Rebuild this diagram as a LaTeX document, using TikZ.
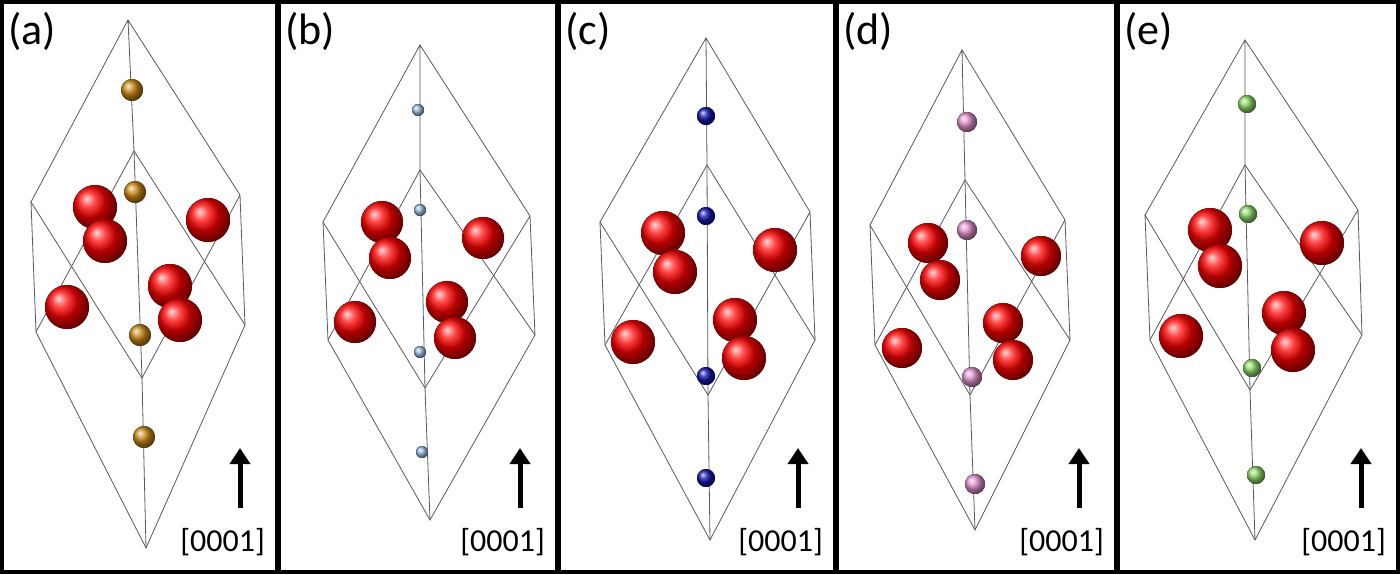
\documentclass[tikz,border=0pt]{standalone}
\usepackage{fontspec}
\setmainfont{Carlito}
\tikzset{
  frame/.style={line width=4pt,black},
  edge/.style={gray!70!black,line width=0.8pt},
  oxy/.style={shading=ball,ball color=red},
  cat/.style={shading=ball,ball color=#1},
  axis/.style={line width=5pt,-{Triangle[length=16pt,width=20pt]}},
}
\usetikzlibrary{arrows.meta}
\definecolor{gold}{RGB}{200,135,20}
\definecolor{pale}{RGB}{150,190,225}
\definecolor{navy}{RGB}{20,20,170}
\definecolor{pink}{RGB}{225,145,205}
\definecolor{lime}{RGB}{140,215,100}
\newcommand{\celledges}{%
  \draw[edge] (T) -- (UL) -- (LL) -- (B) -- (LR) -- (UR) -- (T) -- (IT);
  \draw[edge] (LL) -- (IT) -- (LR);
  \draw[edge] (UL) -- (IB) -- (UR);
  \draw[edge] (IT) -- (IB) -- (B);
}
\begin{document}
\begin{tikzpicture}[x=1pt,y=-1pt]
\useasboundingbox (0,0) rectangle (1400,574);
\fill[white] (0,0) rectangle (1400,574);

% panel a
\coordinate (T) at (128,20); \coordinate (UL) at (31,202); \coordinate (UR) at (240,195);
\coordinate (IT) at (134,151); \coordinate (LL) at (36,332); \coordinate (LR) at (245,325);
\coordinate (IB) at (142,378); \coordinate (B) at (146,548);
\celledges
\foreach \x/\y in {132/90,135/192,140/335,144/437} \fill[cat=gold] (\x,\y) circle (11);
\foreach \x/\y in {95/207,105/241,208/220,170/286,180/320,67/307} \fill[oxy] (\x,\y) circle (22);

% panel b
\coordinate (T) at (420,45); \coordinate (UL) at (323,222); \coordinate (UR) at (530,216);
\coordinate (IT) at (420,170); \coordinate (LL) at (328,340); \coordinate (LR) at (535,335);
\coordinate (IB) at (425,388); \coordinate (B) at (430,520);
\celledges
\foreach \x/\y in {418/110,420/210,420/352,422/452} \fill[cat=pale] (\x,\y) circle (6);
\foreach \x/\y in {382/222,390/258,483/238,447/302,455/338,355/322} \fill[oxy] (\x,\y) circle (21);

% panel c
\coordinate (T) at (706,38); \coordinate (UL) at (600,222); \coordinate (UR) at (810,212);
\coordinate (IT) at (707,165); \coordinate (LL) at (605,345); \coordinate (LR) at (815,340);
\coordinate (IB) at (708,395); \coordinate (B) at (710,540);
\celledges
\foreach \x/\y in {706/116,706/216,706/376,706/478} \fill[cat=navy] (\x,\y) circle (9);
\foreach \x/\y in {663/233,675/272,775/250,735/320,744/358,633/342} \fill[oxy] (\x,\y) circle (22);

% panel d
\coordinate (T) at (962,50); \coordinate (UL) at (870,225); \coordinate (UR) at (1065,220);
\coordinate (IT) at (965,180); \coordinate (LL) at (875,345); \coordinate (LR) at (1070,340);
\coordinate (IB) at (970,395); \coordinate (B) at (975,530);
\celledges
\foreach \x/\y in {967/122,967/230,972/377,975/484} \fill[cat=pink] (\x,\y) circle (10);
\foreach \x/\y in {928/243,940/280,1041/256,1003/323,1013/360,902/348} \fill[oxy] (\x,\y) circle (20);

% panel e
\coordinate (T) at (1245,40); \coordinate (UL) at (1145,215); \coordinate (UR) at (1358,210);
\coordinate (IT) at (1245,165); \coordinate (LL) at (1150,340); \coordinate (LR) at (1362,335);
\coordinate (IB) at (1250,390); \coordinate (B) at (1255,540);
\celledges
\foreach \x/\y in {1247/104,1248/214,1252/368,1256/475} \fill[cat=lime] (\x,\y) circle (9);
\foreach \x/\y in {1210/230,1220/266,1322/243,1284/313,1293/350,1181/336} \fill[oxy] (\x,\y) circle (22);

% frames, labels, axes
\foreach \l/\a/\b in {a/2/277,b/279/557,c/559/835,d/837/1116,e/1118/1398}{
  \draw[frame] (\a,2) rectangle (\b,572);
  \node[font=\fontsize{44}{44}\selectfont,anchor=north west,inner sep=0pt] (lab\l) at (\a+6,12) {(\l)};
  \coordinate (tail\l) at (\b-37,508);
  \coordinate (head\l) at (\b-37,448);
  \draw[axis] (tail\l) -- (head\l);
  \node[font=\fontsize{32}{32}\selectfont,anchor=south east,inner sep=0pt] (dir\l) at (\b-12,556) {[0001]};
}
\end{tikzpicture}
\end{document}
